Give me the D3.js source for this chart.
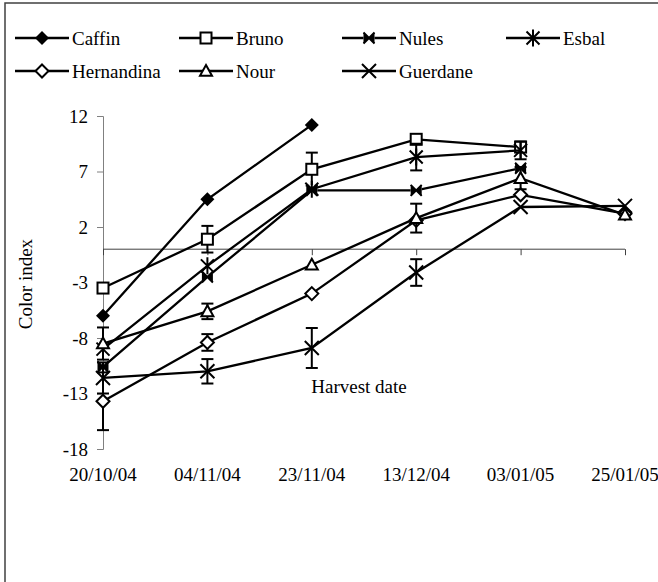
<!DOCTYPE html>
<html>
<head>
<meta charset="utf-8">
<script src="https://cdn.jsdelivr.net/npm/d3@7"></script>
<style>
  html, body { margin: 0; padding: 0; background: #fff; }
  svg { display: block; }
  svg text { font-family: "Liberation Serif", "Times New Roman", serif !important; fill: #000; }
</style>
</head>
<body>
<svg id="chart" width="658" height="582" font-family="Liberation Serif"></svg>
<script>
// ---- data ----
const dates = ["20/10/04", "04/11/04", "23/11/04", "13/12/04", "03/01/05", "25/01/05"];
const yTicks = [-18, -13, -8, -3, 2, 7, 12];

const caffin = [-6.0, 4.5, 11.2];
const caffinErr = [0, 0, 0];
const bruno = [-3.5, 0.9, 7.2, 9.9, 9.2];
const brunoErr = [0, 1.2, 1.5, 0, 0];
const nules = [-10.6, -2.5, 5.3, 5.3, 7.3];
const nulesErr = [0, 0, 0, 0, 0];
const esbal = [-9.0, -1.5, 5.4, 8.3, 8.9];
const esbalErr = [0, 0, 0, 1.2, 0.8];
const hernandina = [-13.7, -8.4, -4.0, 2.6, 4.9, 3.2];
const hernandinaErr = [2.6, 0.75, 0, 0, 0, 0];
const nour = [-8.5, -5.6, -1.4, 2.8, 6.4, 3.1];
const nourErr = [1.45, 0.7, 0, 1.3, 1.0, 0];
const guerdane = [-11.6, -11.0, -8.9, -2.1, 3.8, 3.9];
const guerdaneErr = [1.4, 1.1, 1.8, 1.2, 0, 0];

const seriesNames = ["Caffin", "Bruno", "Nules", "Esbal", "Hernandina", "Nour", "Guerdane"];
const seriesValues = [caffin, bruno, nules, esbal, hernandina, nour, guerdane];
const seriesErrors = [caffinErr, brunoErr, nulesErr, esbalErr, hernandinaErr, nourErr, guerdaneErr];
const seriesMarkers = ["diamondFilled", "square", "nules", "asterisk", "diamond", "triangle", "x"];

const FONT = "'Liberation Serif', 'Times New Roman', serif";

// ---- layout ----
const svg = d3.select("#chart");
const x = d3.scalePoint().domain(dates).range([103, 625]);
const y = d3.scaleLinear().domain([-18, 12]).range([449, 116]);

// outer frame
svg.append("rect").attr("x", 5).attr("y", 3).attr("width", 700).attr("height", 700)
  .attr("fill", "none").attr("stroke", "#404040").attr("stroke-width", 1.5);

// y axis
const yAxis = svg.append("g").attr("transform", "translate(103,0)")
  .call(d3.axisLeft(y).tickValues(yTicks).tickSize(6).tickPadding(9).tickFormat(d => String(d)));
yAxis.attr("font-family", null);
yAxis.select(".domain").attr("stroke", "#808080").attr("stroke-width", 1);
yAxis.selectAll(".tick line").attr("stroke", "#808080");
yAxis.selectAll(".tick text").attr("font-size", 19).style("font-family", FONT).attr("fill", "#000");

// x axis at zero
const xAxis = svg.append("g").attr("transform", `translate(0,${y(0)})`)
  .call(d3.axisBottom(x).tickSize(6).tickFormat(""));
xAxis.select(".domain").attr("stroke", "#404040").attr("stroke-width", 1)
  .attr("d", `M${x(dates[0])},0H${x(dates[dates.length - 1])}`);
xAxis.selectAll(".tick line").attr("stroke", "#404040");
xAxis.selectAll(".tick text").remove();

// x labels at bottom
svg.append("g").selectAll("text").data(dates).join("text")
  .attr("x", d => x(d)).attr("y", 481)
  .attr("text-anchor", "middle").attr("font-size", 19).style("font-family", FONT).text(d => d);

// axis titles
svg.append("text").attr("x", 359).attr("y", 393).attr("text-anchor", "middle")
  .attr("font-size", 19).style("font-family", FONT).text("Harvest date");
svg.append("text").attr("transform", "translate(32,284) rotate(-90)")
  .attr("text-anchor", "middle").attr("font-size", 19).style("font-family", FONT).text("Color index");

// ---- marker drawing ----
function drawMarker(g, type, s) {
  const sw = 2;
  if (type === "diamondFilled") {
    g.append("path").attr("d", `M0,${-s - 1}L${s + 1},0L0,${s + 1}L${-s - 1},0Z`).attr("fill", "#000");
  } else if (type === "square") {
    g.append("rect").attr("x", -s + 0.5).attr("y", -s + 0.5).attr("width", 2 * s - 1).attr("height", 2 * s - 1)
      .attr("fill", "#fff").attr("stroke", "#000").attr("stroke-width", sw);
  } else if (type === "nules") {
    const t = s - 0.5;
    g.append("rect").attr("x", -t).attr("y", -t).attr("width", 2 * t).attr("height", 2 * t).attr("fill", "#fff");
    g.append("path").attr("d", `M${-t},${-t}L0,0L${-t},${t}ZM${t},${-t}L0,0L${t},${t}Z`).attr("fill", "#000");
    g.append("path").attr("d", `M${-t},${-t}L${t},${t}M${-t},${t}L${t},${-t}`)
      .attr("stroke", "#000").attr("stroke-width", sw).attr("fill", "none");
  } else if (type === "asterisk") {
    const t = s + 0.5;
    g.append("path").attr("d", `M${-t},${-t}L${t},${t}M${-t},${t}L${t},${-t}M0,${-t - 2}V${t + 2}`)
      .attr("stroke", "#000").attr("stroke-width", sw).attr("fill", "none");
  } else if (type === "diamond") {
    g.append("path").attr("d", `M0,${-s - 0.5}L${s + 0.5},0L0,${s + 0.5}L${-s - 0.5},0Z`)
      .attr("fill", "#fff").attr("stroke", "#000").attr("stroke-width", sw);
  } else if (type === "triangle") {
    g.append("path").attr("d", `M0,${-s}L${s},${s * 0.8}L${-s},${s * 0.8}Z`)
      .attr("fill", "#fff").attr("stroke", "#000").attr("stroke-width", sw);
  } else if (type === "x") {
    const t = s + 1;
    g.append("path").attr("d", `M${-t},${-t}L${t},${t}M${-t},${t}L${t},${-t}`)
      .attr("stroke", "#000").attr("stroke-width", sw).attr("fill", "none");
  }
}

// ---- series ----
const line = d3.line().x((d, i) => x(dates[i])).y(d => y(d));
const plot = svg.append("g");
seriesValues.forEach((vals, si) => {
  const g = plot.append("g");
  g.append("path").attr("d", line(vals)).attr("fill", "none")
    .attr("stroke", "#000").attr("stroke-width", 2.3);
  const errs = seriesErrors[si];
  vals.forEach((v, i) => {
    const e = errs[i];
    if (!e) return;
    const cx = x(dates[i]);
    const eg = g.append("g").attr("stroke", "#000").attr("stroke-width", 2);
    eg.append("line").attr("x1", cx).attr("x2", cx).attr("y1", y(v - e)).attr("y2", y(v + e));
    eg.append("line").attr("x1", cx - 6).attr("x2", cx + 6).attr("y1", y(v - e)).attr("y2", y(v - e));
    eg.append("line").attr("x1", cx - 6).attr("x2", cx + 6).attr("y1", y(v + e)).attr("y2", y(v + e));
  });
  vals.forEach((v, i) => {
    const mg = g.append("g").attr("transform", `translate(${x(dates[i])},${y(v)})`);
    drawMarker(mg, seriesMarkers[si], 6);
  });
});

// ---- legend ----
const legendCols = [15, 179, 342, 506];
const legendRows = [38, 71];
const legend = svg.append("g");
seriesNames.forEach((name, i) => {
  const col = i < 4 ? i : i - 4;
  const row = i < 4 ? 0 : 1;
  const lx = legendCols[col], ly = legendRows[row];
  const g = legend.append("g").attr("transform", `translate(${lx},${ly})`);
  g.append("line").attr("x1", 0).attr("x2", 54).attr("y1", 0).attr("y2", 0)
    .attr("stroke", "#000").attr("stroke-width", 2.3);
  drawMarker(g.append("g").attr("transform", "translate(27,0)"), seriesMarkers[i], 6);
  g.append("text").attr("x", 57).attr("y", 6.5).attr("font-size", 19).style("font-family", FONT).text(name);
});
</script>
</body>
</html>
